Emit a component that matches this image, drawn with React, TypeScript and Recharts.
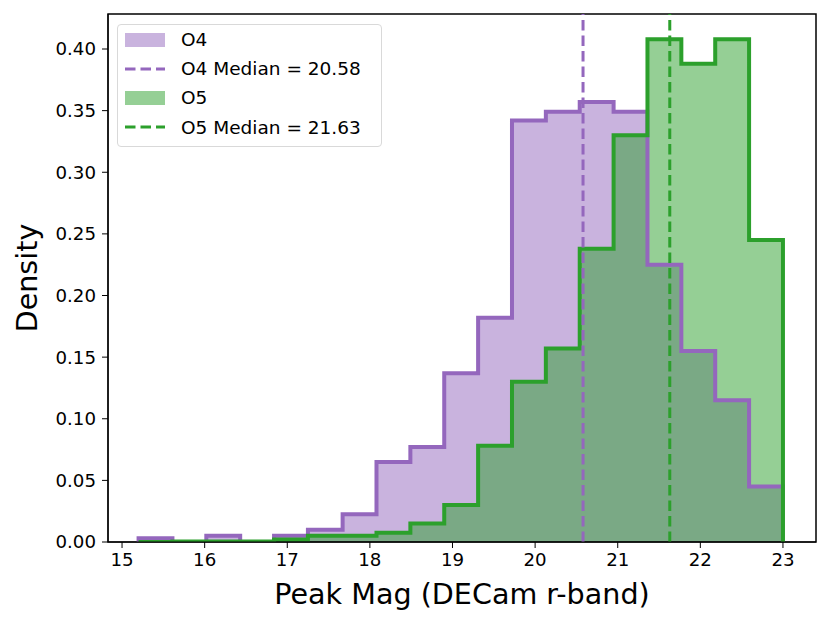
import React from "react";
import {
  ComposedChart,
  Area,
  Line,
  XAxis,
  YAxis,
  ReferenceLine,
  ReferenceArea,
} from "recharts";

const binEdges = [
  15.2, 15.61, 16.02, 16.43, 16.84, 17.25, 17.67, 18.08, 18.49, 18.9, 19.31,
  19.72, 20.13, 20.54, 20.95, 21.36, 21.77, 22.18, 22.59, 23.0,
];
const o4Density = [
  0.003, 0, 0.005, 0, 0.005, 0.01, 0.0225, 0.065, 0.077, 0.137, 0.182, 0.342,
  0.349, 0.357, 0.349, 0.225, 0.155, 0.115, 0.045,
];
const o5Density = [
  0, 0.0005, 0.0005, 0.0005, 0.002, 0.005, 0.005, 0.0075, 0.015, 0.03, 0.078,
  0.13, 0.157, 0.238, 0.33, 0.408, 0.388, 0.408, 0.245,
];
const xTicks = [15, 16, 17, 18, 19, 20, 21, 22, 23];
const yTicks = [0, 0.05, 0.1, 0.15, 0.2, 0.25, 0.3, 0.35, 0.4];
const o4Median = 20.58;
const o5Median = 21.63;

const PURPLE = "#9467bd";
const GREEN = "#2ca02c";
const FONT = "'DejaVu Sans', sans-serif";
const X_MIN = 14.83;
const X_MAX = 23.4;
const Y_MAX = 0.4284;

// step rows: starts at zero, one row per bin, drops back to zero at the last edge
const rows = [
  { mag: binEdges[0], o4: 0, o5: 0 },
  ...o4Density.map((v, i) => ({ mag: binEdges[i], o4: v, o5: o5Density[i] })),
  { mag: binEdges[binEdges.length - 1], o4: 0, o5: 0 },
];

const legendItems = [
  { label: "O4", color: PURPLE, patch: true },
  { label: `O4 Median = ${o4Median}`, color: PURPLE, patch: false },
  { label: "O5", color: GREEN, patch: true },
  { label: `O5 Median = ${o5Median}`, color: GREEN, patch: false },
];

function LegendBox() {
  return (
    <div
      style={{
        position: "absolute",
        left: 117,
        top: 24,
        boxSizing: "border-box",
        width: 265,
        height: 123,
        padding: "0px 7px",
        background: "rgba(255,255,255,0.8)",
        border: "1.5px solid #d9d9d9",
        borderRadius: 4,
        fontFamily: FONT,
        fontSize: 18.5,
        color: "#000",
      }}
    >
      {legendItems.map((item) => (
        <div
          key={item.label}
          style={{ display: "flex", alignItems: "center", height: 29.2 }}
        >
          {item.patch ? (
            <div
              style={{
                width: 40,
                height: 14,
                background: item.color,
                opacity: 0.5,
              }}
            />
          ) : (
            <svg width={40} height={14}>
              <line
                x1={0}
                x2={40}
                y1={7}
                y2={7}
                stroke={item.color}
                strokeWidth={3}
                strokeDasharray="10.5 5"
              />
            </svg>
          )}
          <span style={{ marginLeft: 16 }}>{item.label}</span>
        </div>
      ))}
    </div>
  );
}

export default function App() {
  return (
    <div style={{ position: "absolute", left: 0, top: 0 }}>
      <ComposedChart
        width={830}
        height={625}
        data={rows}
        margin={{ top: 14, right: 14, bottom: 43, left: 48 }}
      >
        <XAxis
          dataKey="mag"
          type="number"
          domain={[X_MIN, X_MAX]}
          ticks={xTicks}
          height={40}
          interval={0}
          allowDataOverflow
          stroke="#000"
          tick={{ fill: "#000", fontSize: 18.2, fontFamily: FONT }}
          tickSize={6}
          tickMargin={5}
          label={{
            value: "Peak Mag (DECam r-band)",
            position: "insideBottom",
            offset: -22,
            fill: "#000",
            fontSize: 28.6,
            fontFamily: FONT,
          }}
        />
        <YAxis
          type="number"
          domain={[0, Y_MAX]}
          ticks={yTicks}
          width={60}
          interval={0}
          allowDataOverflow
          stroke="#000"
          tick={{ fill: "#000", fontSize: 18.2, fontFamily: FONT }}
          tickSize={6}
          tickMargin={6}
          tickFormatter={(v: number) => v.toFixed(2)}
          label={{
            value: "Density",
            angle: -90,
            position: "insideLeft",
            offset: -21,
            fill: "#000",
            fontSize: 28.6,
            fontFamily: FONT,
            style: { textAnchor: "middle" },
          }}
        />
        <Area
          dataKey="o4"
          type="stepAfter"
          stroke="none"
          fill={PURPLE}
          fillOpacity={0.5}
          dot={false}
          activeDot={false}
          isAnimationActive={false}
        />
        <Area
          dataKey="o5"
          type="stepAfter"
          stroke="none"
          fill={GREEN}
          fillOpacity={0.5}
          dot={false}
          activeDot={false}
          isAnimationActive={false}
        />
        <Line
          dataKey="o4"
          type="stepAfter"
          stroke={PURPLE}
          strokeWidth={4}
          strokeLinejoin="miter"
          dot={false}
          activeDot={false}
          isAnimationActive={false}
        />
        <Line
          dataKey="o5"
          type="stepAfter"
          stroke={GREEN}
          strokeWidth={4}
          strokeLinejoin="miter"
          dot={false}
          activeDot={false}
          isAnimationActive={false}
        />
        <ReferenceLine
          x={o4Median}
          stroke={PURPLE}
          strokeWidth={3}
          strokeDasharray="10.5 5"
        />
        <ReferenceLine
          x={o5Median}
          stroke={GREEN}
          strokeWidth={3}
          strokeDasharray="10.5 5"
        />
        <ReferenceArea
          x1={X_MIN}
          x2={X_MAX}
          y1={0}
          y2={Y_MAX}
          fill="none"
          stroke="#000"
          strokeWidth={1.5}
        />
      </ComposedChart>
      <LegendBox />
    </div>
  );
}
